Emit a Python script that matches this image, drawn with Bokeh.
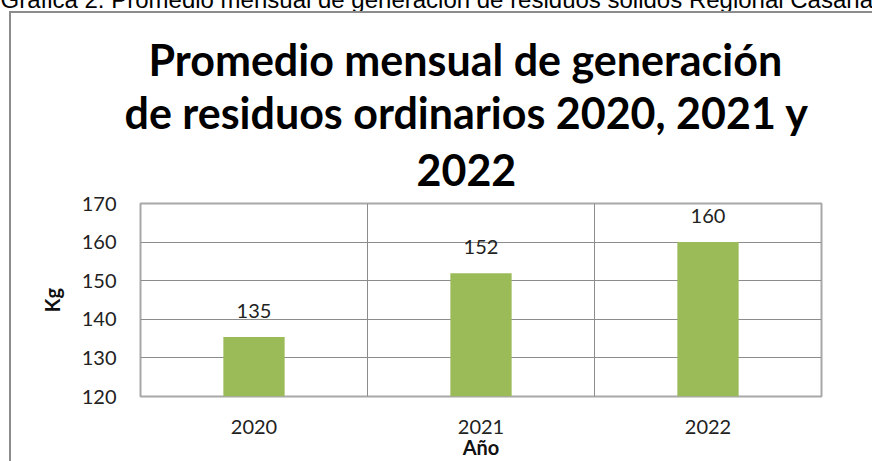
from bokeh.plotting import figure
from bokeh.models import (Range1d, FixedTicker, LabelSet, ColumnDataSource, Title,
                          InlineStyleSheet)
from bokeh.core.properties import value
from bokeh.embed import file_html
from bokeh.resources import INLINE

# ---- data ----
years = ["2020", "2021", "2022"]
kg = [135.4, 151.9, 160.0]
y_ticks = [120, 130, 140, 150, 160, 170]
title_lines = ["Promedio mensual de generación",
               "de residuos  ordinarios 2020, 2021 y",
               "2022"]
caption = "Gráfica 2. Promedio mensual de generación de residuos sólidos Regional Casanare"

y_start, y_end = y_ticks[0], y_ticks[-1]
xs = [i + 0.5 for i in range(len(years))]
labels = [f"{v:.0f}" for v in kg]

src = ColumnDataSource(dict(x=xs, top=kg, bottom=[y_start] * len(kg), label=labels))

FONT = "Lato"
GRID = "#8C8C8C"
SHIFT = 40                      # canvas starts above the page top (caption is cut)
W, H = 872, 461 + SHIFT
BL, BR, BT, BB = 140, 51, 203 + SHIFT, 64

frame_css = InlineStyleSheet(css=f"""
:host {{ position: relative; }}
:host::after {{
  content: ""; position: absolute; left: 9px; top: {11 + SHIFT}px; right: 0; bottom: 0;
  border-left: 2px solid #8C8C8C; border-top: 2px solid #8C8C8C;
  pointer-events: none; z-index: 10;
}}
""")

p = figure(width=W, height=H, output_backend="svg", toolbar_location=None,
           x_range=Range1d(0, len(years)), y_range=Range1d(y_start, y_end),
           min_border_left=BL, min_border_right=BR, min_border_top=BT,
           min_border_bottom=BB, margin=(-SHIFT, 0, 0, 0),
           stylesheets=[frame_css])
p.background_fill_color = "white"
p.border_fill_color = "white"
p.outline_line_color = "#A8A8A8"
p.outline_line_width = 2

p.vbar(x="x", top="top", bottom="bottom", width=0.27, source=src,
       fill_color="#9BBB59", line_color=None)

p.add_layout(LabelSet(x="x", y="top", text="label", source=src,
                      text_align="center", text_baseline="alphabetic", y_offset=19,
                      text_font=value(FONT), text_font_size="20px",
                      text_color="#222222"))

# axes
p.xaxis.ticker = FixedTicker(ticks=xs)
p.xaxis.major_label_overrides = {x: y for x, y in zip(xs, years)}
p.yaxis.ticker = FixedTicker(ticks=y_ticks)
for ax in (p.xaxis[0], p.yaxis[0]):
    ax.axis_line_color = None
    ax.major_tick_line_color = None
    ax.minor_tick_line_color = None
    ax.major_label_text_font = FONT
    ax.major_label_text_font_size = "20px"
    ax.major_label_text_color = "#222222"
    ax.axis_label_text_font = FONT
    ax.axis_label_text_font_size = "20px"
    ax.axis_label_text_font_style = "bold"
    ax.axis_label_text_color = "#111111"
p.xaxis.axis_label = "Año"
p.yaxis.axis_label = "Kg"
p.xaxis.major_label_standoff = 17
p.xaxis.axis_label_standoff = -2
p.yaxis.major_label_standoff = 18
p.yaxis.axis_label_standoff = 15

# grids
p.ygrid.ticker = FixedTicker(ticks=y_ticks)
p.ygrid.grid_line_color = GRID
p.xgrid.ticker = FixedTicker(ticks=list(range(1, len(years))))
p.xgrid.grid_line_color = GRID

# title lines (stacked upward from the plot: last line first)
title_offsets = [8, -16, 276]
title_standoffs = [8, -8, 36]
for t, off, so in reversed(list(zip(title_lines, title_offsets, title_standoffs))):
    p.add_layout(Title(text=t, align="left", offset=off, standoff=so,
                       text_font=FONT, text_font_size="43px",
                       text_font_style="bold", text_color="black"), "above")

# caption on top (cut by the page edge as in the reference)
p.add_layout(Title(text=caption, align="left", offset=-BL, standoff=29,
                   text_font="Liberation Sans", text_font_size="24px",
                   text_font_style="normal", text_color="black"), "above")

open("out.html", "w").write(file_html(p, INLINE))
